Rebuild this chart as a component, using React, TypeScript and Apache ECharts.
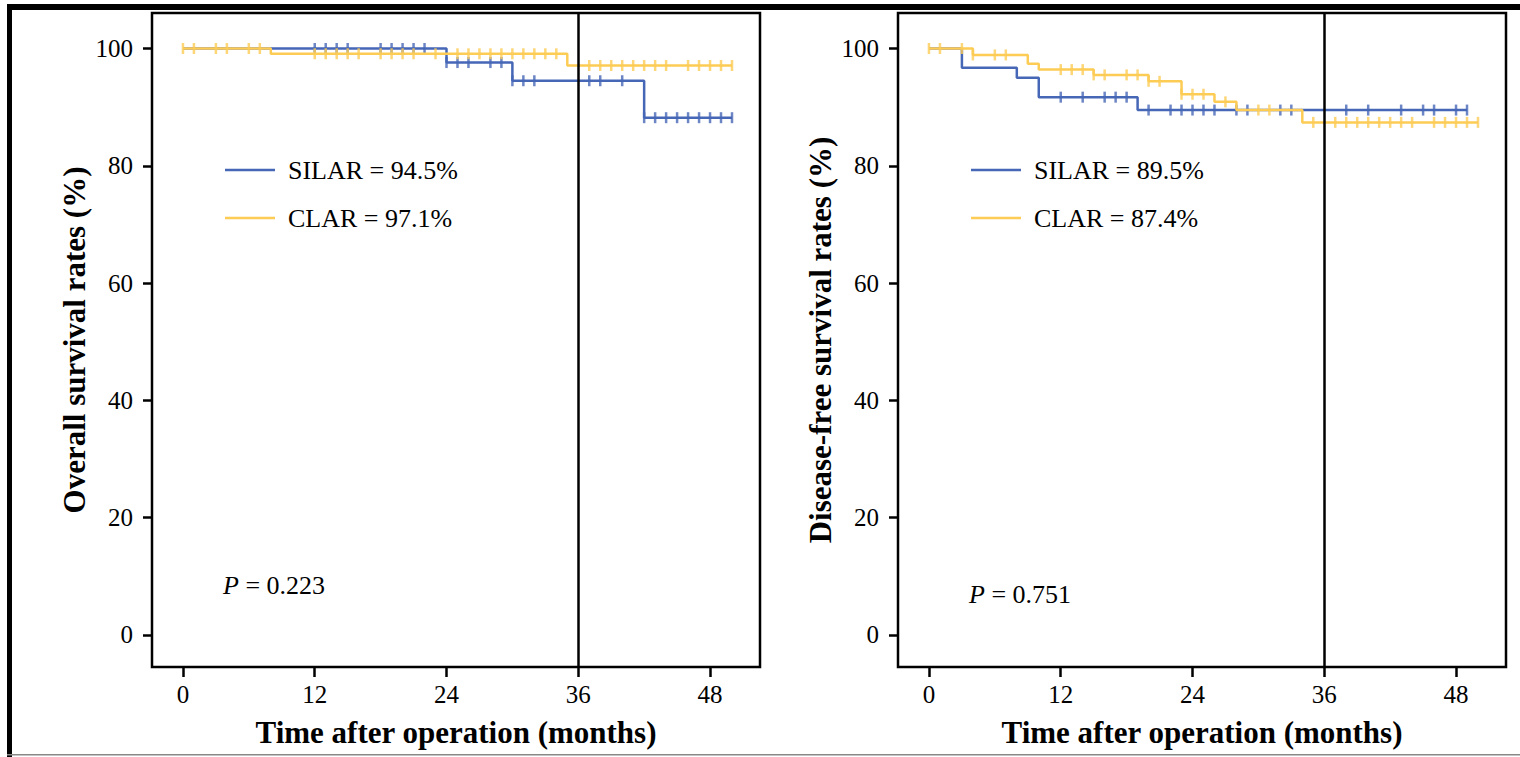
import React, { useEffect, useRef } from "react";
import * as echarts from "echarts";

const FONT = "'Liberation Serif', 'Times New Roman', Times, serif";
const BLUE = "#4666b6";
const YELLOW = "#fdcc55";

// tick labels
const xTicks = [0, 12, 24, 36, 48];
const yTicks = [0, 20, 40, 60, 80, 100];
const landmark = 36;

// Overall survival (left)
const osSilarSteps: [number, number][] = [[0, 100], [24, 97.6], [30, 94.5], [42, 88.2], [50, 88.2]];
const osSilarCensor = [12, 13, 14, 15, 18, 19, 20, 21, 22, 24, 25, 26, 28, 29, 30, 31, 32, 37, 38, 40, 42, 43, 44, 45, 46, 47, 48, 49, 50];
const osClarSteps: [number, number][] = [[0, 100], [8, 99.1], [35, 97.1], [50, 97.1]];
const osClarCensor = [0, 1, 3, 4, 6, 7, 12, 13, 14, 15, 16, 18, 19, 20, 21, 23, 25, 26, 27, 28, 29, 30, 31, 32, 33, 34, 37, 38, 39, 40, 41, 42, 43, 44, 46, 47, 48, 49, 50];

// Disease-free survival (right)
const dfsSilarSteps: [number, number][] = [[0, 100], [3, 96.7], [8, 95.0], [10, 91.7], [19, 89.5], [49, 89.5]];
const dfsSilarCensor = [12, 14, 16, 17, 18, 20, 22, 23, 24, 25, 26, 28, 29, 32, 33, 38, 40, 43, 45, 46, 48, 49];
const dfsClarSteps: [number, number][] = [[0, 100], [4, 98.9], [9, 97.4], [10, 96.4], [15, 95.5], [20, 94.4], [23, 92.2], [26, 90.9], [28, 89.5], [34, 87.4], [50, 87.4]];
const dfsClarCensor = [0, 1, 3, 4, 6, 7, 12, 13, 14, 15, 16, 18, 19, 20, 21, 23, 24, 25, 27, 30, 31, 35, 37, 38, 39, 40, 41, 42, 43, 44, 46, 47, 48, 49, 50];

const panels = [
  {
    yName: "Overall survival rates (%)",
    silarName: "SILAR = 94.5%",
    clarName: "CLAR = 97.1%",
    pText: "0.223",
    silarSteps: osSilarSteps,
    silarCensor: osSilarCensor,
    clarSteps: osClarSteps,
    clarCensor: osClarCensor,
  },
  {
    yName: "Disease-free survival rates (%)",
    silarName: "SILAR = 89.5%",
    clarName: "CLAR = 87.4%",
    pText: "0.751",
    silarSteps: dfsSilarSteps,
    silarCensor: dfsSilarCensor,
    clarSteps: dfsClarSteps,
    clarCensor: dfsClarCensor,
  },
];

function valueAt(steps: [number, number][], t: number): number {
  let v = steps[0][1];
  for (const s of steps) if (s[0] <= t) v = s[1];
  return v;
}

const GRID_LEFTS = [152, 898];
const GRID_TOP = 13;
const GRID_W = 608;
const GRID_H = 654;
const X_MIN = -2.82;
const X_MAX = 52.55;
const Y_MIN = -5.46;
const Y_MAX = 106.05;

function buildOption() {
  const grid: any[] = [];
  const xAxis: any[] = [];
  const yAxis: any[] = [];
  const series: any[] = [];
  const legend: any[] = [];
  const title: any[] = [];

  panels.forEach((p, i) => {
    const left = GRID_LEFTS[i];
    grid.push({
      left,
      top: GRID_TOP,
      width: GRID_W,
      height: GRID_H,
      show: true,
      borderColor: "#000",
      borderWidth: 2.5,
      backgroundColor: "transparent",
    });
    xAxis.push({
      type: "value",
      gridIndex: i,
      min: X_MIN,
      max: X_MAX,
      position: "bottom",
      name: "Time after operation (months)",
      nameLocation: "middle",
      nameGap: 50,
      nameTextStyle: { fontFamily: FONT, fontSize: 31, fontWeight: "bold", color: "#000" },
      axisLine: { show: false, onZero: false },
      splitLine: { show: false },
      axisTick: { show: true, length: 10, lineStyle: { color: "#000", width: 2.5 }, customValues: xTicks },
      axisLabel: { fontFamily: FONT, fontSize: 25, color: "#000", margin: 15, customValues: xTicks },
    });
    yAxis.push({
      type: "value",
      gridIndex: i,
      min: Y_MIN,
      max: Y_MAX,
      position: "left",
      name: p.yName,
      nameLocation: "middle",
      nameGap: 62,
      nameTextStyle: { fontFamily: FONT, fontSize: 31, fontWeight: "bold", color: "#000" },
      axisLine: { show: false, onZero: false },
      splitLine: { show: false },
      axisTick: { show: true, length: 9, lineStyle: { color: "#000", width: 2.5 }, customValues: yTicks },
      axisLabel: { fontFamily: FONT, fontSize: 25, color: "#000", margin: 19, customValues: yTicks },
    });

    const groups = [
      { name: p.silarName, steps: p.silarSteps, censor: p.silarCensor, color: BLUE },
      { name: p.clarName, steps: p.clarSteps, censor: p.clarCensor, color: YELLOW },
    ];
    groups.forEach((g, gi) => {
      const lineSeries: any = {
        type: "line",
        name: g.name,
        xAxisIndex: i,
        yAxisIndex: i,
        step: "end",
        data: g.steps,
        symbol: "none",
        showSymbol: false,
        lineStyle: { color: g.color, width: 2.5 },
        itemStyle: { color: g.color },
        silent: true,
        z: 2 + gi * 2,
      };
      if (gi === 0) {
        lineSeries.markLine = {
          silent: true,
          symbol: ["none", "none"],
          label: { show: false },
          lineStyle: { color: "#000", width: 2.5, type: "solid" },
          data: [{ xAxis: landmark }],
          z: 10,
        };
      }
      series.push(lineSeries);
      series.push({
        type: "scatter",
        name: g.name + " censored",
        xAxisIndex: i,
        yAxisIndex: i,
        data: g.censor.map((t) => [t, valueAt(g.steps, t)]),
        symbol: "rect",
        symbolSize: [2.5, 11],
        itemStyle: { color: g.color },
        silent: true,
        z: 3 + gi * 2,
      });
    });

    legend.push({
      data: [
        { name: p.silarName, itemStyle: { color: BLUE } },
        { name: p.clarName, itemStyle: { color: YELLOW } },
      ],
      orient: "vertical",
      left: left + 68,
      top: 152,
      icon: "rect",
      itemWidth: 50,
      itemHeight: 2.5,
      itemGap: 22,
      selectedMode: false,
      textStyle: { fontFamily: FONT, fontSize: 26, color: "#000", padding: [0, 0, 0, 8] },
    });

    title.push({
      text: "{i|P} = " + p.pText,
      left: left + 66,
      top: i === 0 ? 567 : 576,
      textStyle: {
        fontFamily: FONT,
        fontSize: 26,
        fontWeight: "normal",
        color: "#000",
        rich: { i: { fontFamily: FONT, fontSize: 26, fontStyle: "italic", color: "#000" } },
      },
    });
  });

  const graphic = [
    { type: "rect", shape: { x: 7, y: 4, width: 5, height: 753 }, style: { fill: "#000" }, silent: true },
    { type: "rect", shape: { x: 7, y: 4, width: 1513, height: 6 }, style: { fill: "#000" }, silent: true },
    { type: "rect", shape: { x: 7, y: 754, width: 1513, height: 1.5 }, style: { fill: "#888" }, silent: true },
  ];

  return {
    animation: false,
    backgroundColor: "#fff",
    grid,
    xAxis,
    yAxis,
    series,
    legend,
    title,
    graphic,
  };
}

export default function App() {
  const ref = useRef<HTMLDivElement>(null);
  useEffect(() => {
    if (!ref.current) return;
    const chart = echarts.init(ref.current, undefined, { renderer: "svg" });
    chart.setOption(buildOption() as any);
    return () => chart.dispose();
  }, []);
  return (
    <div
      ref={ref}
      style={{ position: "fixed", left: 0, top: 0, width: 1520, height: 757, background: "#fff" }}
    />
  );
}
